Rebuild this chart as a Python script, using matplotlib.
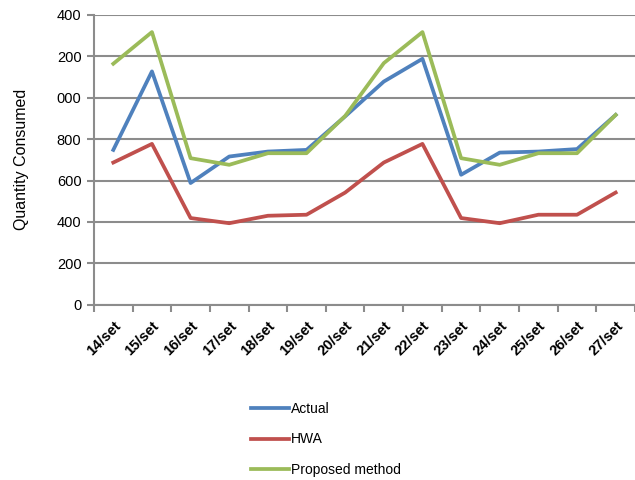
import matplotlib.pyplot as plt
import numpy as np

plt.rcParams['font.family'] = ['Liberation Sans', 'DejaVu Sans']

days = ['14/set', '15/set', '16/set', '17/set', '18/set', '19/set', '20/set',
        '21/set', '22/set', '23/set', '24/set', '25/set', '26/set', '27/set']
actual = [748, 1127, 588, 716, 740, 748, 910, 1078, 1188, 628, 735, 740, 752, 917]
hwa = [687, 777, 419, 394, 430, 435, 542, 687, 777, 419, 394, 435, 435, 542]
proposed = [1164, 1317, 708, 676, 732, 732, 912, 1167, 1317, 708, 676, 732, 732, 917]
y_ticks = [0, 200, 400, 600, 800, 1000, 1200, 1400]
y_tick_labels = ['0', '200', '400', '600', '800', '000', '200', '400']

grid_col = '#8c8c8c'

fig = plt.figure(figsize=(6.35, 4.8), dpi=100)
ax = fig.add_axes([0.148, 0.365, 0.852, 0.604])

x = np.arange(len(days))
ax.plot(x, actual, color='#4f81bd', lw=2.7, label='Actual')
ax.plot(x, hwa, color='#c0504d', lw=2.7, label='HWA')
ax.plot(x, proposed, color='#9bbb59', lw=2.7, label='Proposed method')

ax.set_xlim(-0.5, len(days) - 0.5)
ax.set_ylim(0, 1400)
ax.set_yticks(y_ticks)
ax.set_yticklabels(y_tick_labels, fontsize=10.5)
ax.set_xticks(x)
ax.set_xticklabels(days, rotation=45, ha='right', rotation_mode='anchor',
                   fontsize=10.5, fontweight='bold')
ax.set_xticks(np.arange(len(days) + 1) - 0.5, minor=True)
ax.tick_params(axis='x', which='major', length=0, pad=10)
ax.tick_params(axis='x', which='minor', length=5, width=1.5, color=grid_col)
ax.tick_params(axis='y', length=5, width=1.5, color=grid_col, pad=4)

ax.grid(axis='y', color=grid_col, lw=1.5)
ax.set_axisbelow(True)
for s in ['top', 'right']:
    ax.spines[s].set_visible(False)
for s in ['left', 'bottom']:
    ax.spines[s].set_color(grid_col)
    ax.spines[s].set_linewidth(1.5)

ax.set_ylabel('Quantity Consumed', fontsize=11.5, labelpad=20)

fig.legend(loc='upper left', bbox_to_anchor=(0.396, 0.163), frameon=False,
           fontsize=10, handlelength=2.7, handletextpad=0.15, labelspacing=1.2,
           borderaxespad=0, borderpad=0)

plt.savefig('out.png', dpi=100)
